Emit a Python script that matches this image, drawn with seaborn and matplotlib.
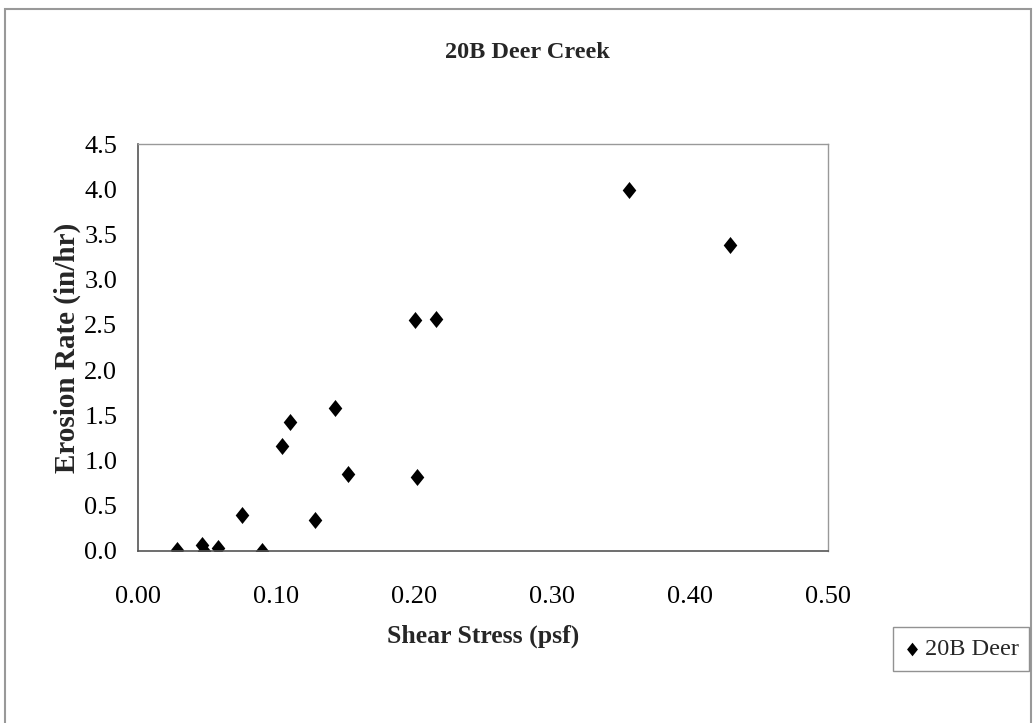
import numpy as np
import pandas as pd
import matplotlib
matplotlib.use('Agg')
import matplotlib.pyplot as plt
import seaborn as sns
from matplotlib.path import Path
from matplotlib.patches import Rectangle

# data
shear_stress = [0.028, 0.046, 0.048, 0.058, 0.075, 0.090, 0.104, 0.110,
                0.128, 0.143, 0.152, 0.201, 0.202, 0.216, 0.356, 0.429]
erosion_rate = [0.01, 0.07, 0.00, 0.03, 0.40, 0.00, 1.16, 1.43,
                0.34, 1.58, 0.85, 2.55, 0.82, 2.57, 3.99, 3.38]
series_name = '20B Deer'
x_ticks = [0.0, 0.1, 0.2, 0.3, 0.4, 0.5]
y_ticks = [0.0, 0.5, 1.0, 1.5, 2.0, 2.5, 3.0, 3.5, 4.0, 4.5]

df = pd.DataFrame({'Shear Stress': shear_stress, 'Erosion Rate': erosion_rate})

sns.set_theme(style='white')
plt.rcParams['font.family'] = ['Liberation Serif', 'DejaVu Serif']

# taller-than-wide diamond like the excel marker
diamond = Path([(0, 1), (0.8, 0), (0, -1), (-0.8, 0), (0, 1)],
               [Path.MOVETO, Path.LINETO, Path.LINETO, Path.LINETO, Path.CLOSEPOLY])

fig = plt.figure(figsize=(10.34, 7.23), dpi=100)
ax = fig.add_axes([0.1335, 0.2379, 0.6673, 0.5629])

sns.scatterplot(data=df, x='Shear Stress', y='Erosion Rate', ax=ax,
                marker=diamond, s=150, color='black', edgecolor='black',
                linewidth=0, label=series_name, legend=False)

ax.set_xlim(0, 0.5)
ax.set_ylim(0, 4.5)
ax.set_xticks(x_ticks)
ax.set_xticklabels(['%.2f' % v for v in x_ticks])
ax.set_yticks(y_ticks)
ax.set_yticklabels(['%.1f' % v for v in y_ticks])
ax.tick_params(axis='both', direction='out', length=7, width=1, color='#555555',
               labelsize=19, colors='black')
ax.tick_params(axis='x', pad=15, length=10)
ax.tick_params(axis='y', pad=8)
for side in ['left', 'bottom']:
    ax.spines[side].set_color('#555555')
    ax.spines[side].set_linewidth(1.2)
for side in ['top', 'right']:
    ax.spines[side].set_color('#999999')
    ax.spines[side].set_linewidth(1.0)

ax.set_xlabel('Shear Stress (psf)', fontsize=18.5, fontweight='bold', labelpad=12)
ax.set_ylabel('Erosion Rate (in/hr)', fontsize=21, fontweight='bold', labelpad=2)
fig.text(0.51, 0.927, '20B Deer Creek', ha='center', va='center',
         fontsize=17.5, fontweight='bold')

# legend box at bottom right
handles, labels = ax.get_legend_handles_labels()
leg = fig.legend(handles, labels, loc='center left',
                 bbox_to_anchor=(893 / 1034, 1 - 649 / 723),
                 frameon=True, fancybox=False, fontsize=17.5, borderaxespad=0,
                 handletextpad=0.15, handlelength=0.7, borderpad=0.45,
                 markerscale=0.8)
leg.get_frame().set_edgecolor('#777777')
leg.get_frame().set_linewidth(1.0)

# outer chart border
fig.patches.append(Rectangle((0.005, -0.02), 0.992, 1.007, transform=fig.transFigure,
                             fill=False, edgecolor='#999999', linewidth=1.5))

fig.savefig('out.png', dpi=100)
